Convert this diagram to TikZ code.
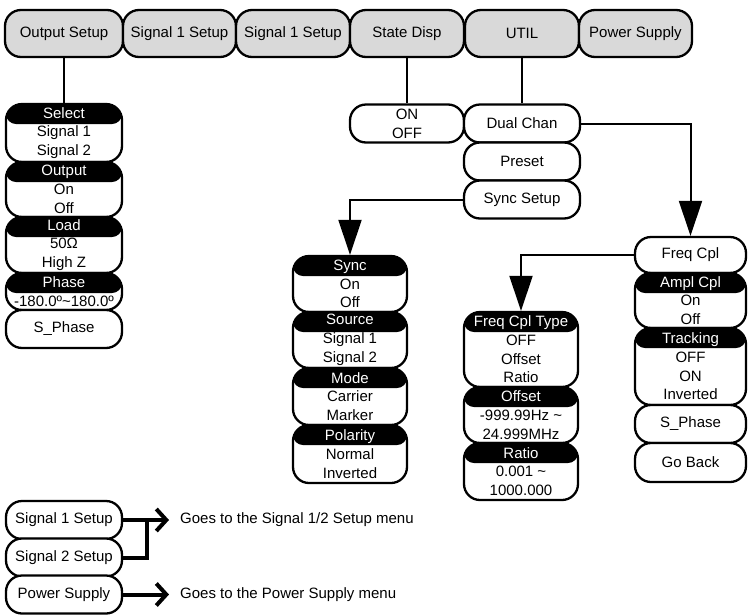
\documentclass[tikz,border=0pt]{standalone}
\usepackage{fontspec}
\setmainfont{Liberation Sans}
\usetikzlibrary{arrows.meta}
\definecolor{tabgray}{HTML}{D9D9D9}
\tikzset{
  menu/.style={draw, line width=2.3pt, rounded corners=16pt, inner sep=0pt, align=center, minimum width=114pt, minimum height=38pt, fill=white},
  tab/.style={menu, fill=tabgray, minimum height=47pt, rounded corners=16pt},
  group/.style={menu, minimum height=#1pt, path picture={\fill[black, rounded corners=10pt] (path picture bounding box.north west) rectangle ([yshift=-20pt]path picture bounding box.north east);}},
  link/.style={line width=2pt, -{Triangle[length=35pt, width=23pt]}},
  goes/.style={line width=4pt, -{Straight Barb[length=10pt, width=22pt]}}
}
\newcommand{\hd}[1]{\textcolor{white}{#1}}

\begin{document}
\begin{tikzpicture}[x=1pt, y=-1pt, font=\fontsize{15}{18.7}\selectfont]
  \useasboundingbox (0,0) rectangle (748,614);
  \node[tab, minimum width=118pt] (outset) at (64,33.5) {Output Setup};
  \node[tab, minimum width=113pt] (sig1) at (179.5,33.5) {Signal 1 Setup};
  \node[tab] (sig1b) at (293,33.5) {Signal 1 Setup};
  \node[tab] (state) at (407,33.5) {State Disp};
  \node[tab] (util) at (522,33.5) {UTIL};
  \node[tab, minimum width=113pt] (power) at (635.5,33.5) {Power Supply};

  \node[group=58, minimum width=116pt] (select) at (64,133) {\hd{Select}\\Signal 1\\Signal 2};
  \node[group=55, minimum width=116pt] (output) at (64,189.5) {\hd{Output}\\On\\Off};
  \node[group=56, minimum width=116pt] (load) at (64,245) {\hd{Load}\\50Ω\\High Z};
  \node[group=37, minimum width=116pt] (phase) at (64,291.5) {\hd{Phase}\\-180.0º\char`\~180.0º};
  \node[menu, minimum width=116pt] (sphase) at (64,329) {S\_Phase};
  \draw[line width=2pt] (outset.south) -- (select.north);

  \node[menu] (onoff) at (407,123.5) {ON\\OFF};
  \node[menu, minimum width=116pt] (dual) at (522,123.5) {Dual Chan};
  \node[menu, minimum width=116pt] (preset) at (522,161.5) {Preset};
  \node[menu, minimum width=116pt] (syncset) at (522,199.5) {Sync Setup};
  \draw[line width=2pt] (state.south) -- (onoff.north);
  \draw[line width=2pt] (util.south) -- (dual.north);

  \node[group=56] (sync) at (350,284) {\hd{Sync}\\On\\Off};
  \node[group=56] (source) at (350,340) {\hd{Source}\\Signal 1\\Signal 2};
  \node[group=57] (mode) at (350,396.5) {\hd{Mode}\\Carrier\\Marker};
  \node[group=58] (polarity) at (350,454) {\hd{Polarity}\\Normal\\Inverted};
  \draw[link] (syncset.west) -| (sync.north);

  \node[menu, minimum width=111pt, minimum height=36pt] (freqcpl) at (690.5,255) {Freq Cpl};
  \node[group=55, minimum width=111pt] (amplcpl) at (690.5,300.5) {\hd{Ampl Cpl}\\On\\Off};
  \node[group=77, minimum width=111pt] (tracking) at (690.5,366.5) {\hd{Tracking}\\OFF\\ON\\Inverted};
  \node[menu, minimum width=111pt] (sphaseb) at (690.5,424) {S\_Phase};
  \node[menu, minimum width=111pt, minimum height=39pt] (goback) at (690.5,462.5) {Go Back};
  \draw[link] (dual.east) -| (freqcpl.north);

  \node[group=75] (cpltype) at (521,349.5) {\hd{Freq Cpl Type}\\OFF\\Offset\\Ratio};
  \node[group=56] (offset) at (521,415) {\hd{Offset}\\-999.99Hz \char`\~\\24.999MHz};
  \node[group=57] (ratio) at (521,471.5) {\hd{Ratio}\\0.001 \char`\~\\1000.000};
  \draw[link] (freqcpl.west) -| (cpltype.north);

  \node[menu, minimum width=116pt] (leg1) at (64,520) {Signal 1 Setup};
  \node[menu, minimum width=116pt] (leg2) at (64,557.5) {Signal 2 Setup};
  \node[menu, minimum width=116pt] (leg3) at (64,594.5) {Power Supply};
  \node[anchor=west, inner sep=0pt] (txt1) at (180,520) {Goes to the Signal 1/2 Setup menu};
  \node[anchor=west, inner sep=0pt] (txt2) at (180,594.5) {Goes to the Power Supply menu};
  \coordinate (join) at (147,520);
  \draw[goes] (leg1.east) -- ([xshift=-11pt]txt1.west);
  \draw[line width=4pt] (leg2.east) -| (join);
  \draw[goes] (leg3.east) -- ([xshift=-11pt]txt2.west);
\end{tikzpicture}
\end{document}
